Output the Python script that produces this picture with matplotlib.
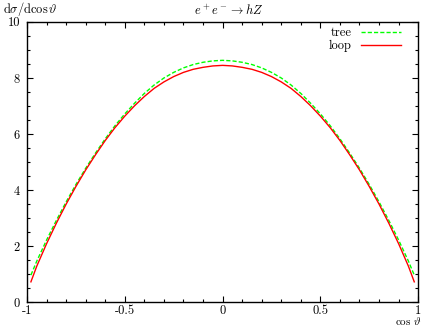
import matplotlib
matplotlib.use("Agg")
import matplotlib.pyplot as plt
from matplotlib.ticker import MultipleLocator

plt.rcParams["mathtext.fontset"] = "cm"
plt.rcParams["font.family"] = "cmr10"
plt.rcParams["axes.unicode_minus"] = False
plt.rcParams["axes.formatter.use_mathtext"] = True

# cos(theta) sample points and read-off cross sections
cos_theta = [-0.98, -0.95, -0.9, -0.85, -0.8, -0.75, -0.7, -0.65, -0.6, -0.55,
             -0.5, -0.45, -0.4, -0.35, -0.3, -0.25, -0.2, -0.15, -0.1, -0.05,
             0.0, 0.05, 0.1, 0.15, 0.2, 0.25, 0.3, 0.35, 0.4, 0.45,
             0.5, 0.55, 0.6, 0.65, 0.7, 0.75, 0.8, 0.85, 0.9, 0.95, 0.98]
tree = [0.97, 1.47, 2.22, 2.92, 3.58, 4.20, 4.78, 5.32, 5.83, 6.30,
        6.72, 7.10, 7.45, 7.75, 8.00, 8.20, 8.36, 8.48, 8.56, 8.61,
        8.63, 8.61, 8.56, 8.48, 8.36, 8.20, 8.00, 7.75, 7.45, 7.10,
        6.72, 6.30, 5.83, 5.32, 4.78, 4.20, 3.58, 2.92, 2.22, 1.47, 0.97]
loop = [0.73, 1.29, 2.09, 2.82, 3.50, 4.13, 4.72, 5.26, 5.77, 6.23,
        6.64, 7.01, 7.34, 7.63, 7.86, 8.05, 8.20, 8.31, 8.38, 8.43,
        8.45, 8.43, 8.38, 8.31, 8.20, 8.05, 7.86, 7.63, 7.34, 7.01,
        6.64, 6.23, 5.77, 5.26, 4.72, 4.13, 3.50, 2.82, 2.09, 1.29, 0.73]

fig = plt.figure(figsize=(4.32, 3.27), dpi=100)
ax = fig.add_axes([0.0625, 0.0755, 0.9055, 0.8575])

ax.plot(cos_theta, tree, color="#00ff00", linestyle=(0, (3, 1.5)), lw=1.0, label="tree")
ax.plot(cos_theta, loop, color="#ff0000", linestyle="-", lw=1.0, label="loop")

ax.set_xlim(-1, 1)
ax.set_ylim(0, 10)
ax.xaxis.set_minor_locator(MultipleLocator(0.1))
ax.yaxis.set_minor_locator(MultipleLocator(0.5))
ax.set_xticks([-1, -0.5, 0, 0.5, 1])
ax.set_xticklabels(["-1", "-0.5", "0", "0.5", "1"])
ax.set_yticks([0, 2, 4, 6, 8, 10])
ax.set_yticklabels(["0", "2", "4", "6", "8", "10"])
ax.tick_params(which="both", direction="in", top=True, right=True, labelsize=9, width=0.8)
ax.tick_params(which="major", length=4)
ax.tick_params(axis="x", which="major", pad=2)
ax.tick_params(axis="y", which="major", pad=5)
ax.tick_params(which="minor", length=2.5)
for s in ax.spines.values():
    s.set_linewidth(1.0)

fig.text(0.008, 0.972, r"$\mathrm{d}\sigma/\mathrm{d}\cos\vartheta$", fontsize=9, va="center", ha="left")
fig.text(0.53, 0.968, r"$e^+e^-\to hZ$", fontsize=9, va="center", ha="center")
fig.text(0.975, 0.0, r"$\cos\,\vartheta$", fontsize=8, va="bottom", ha="right")

ax.legend(loc="upper right", bbox_to_anchor=(0.97, 1.0), frameon=False,
          markerfirst=False, fontsize=9, handlelength=3.2, handletextpad=0.8,
          borderaxespad=0.0, labelspacing=0.1)

fig.savefig("out.png", dpi=100)
